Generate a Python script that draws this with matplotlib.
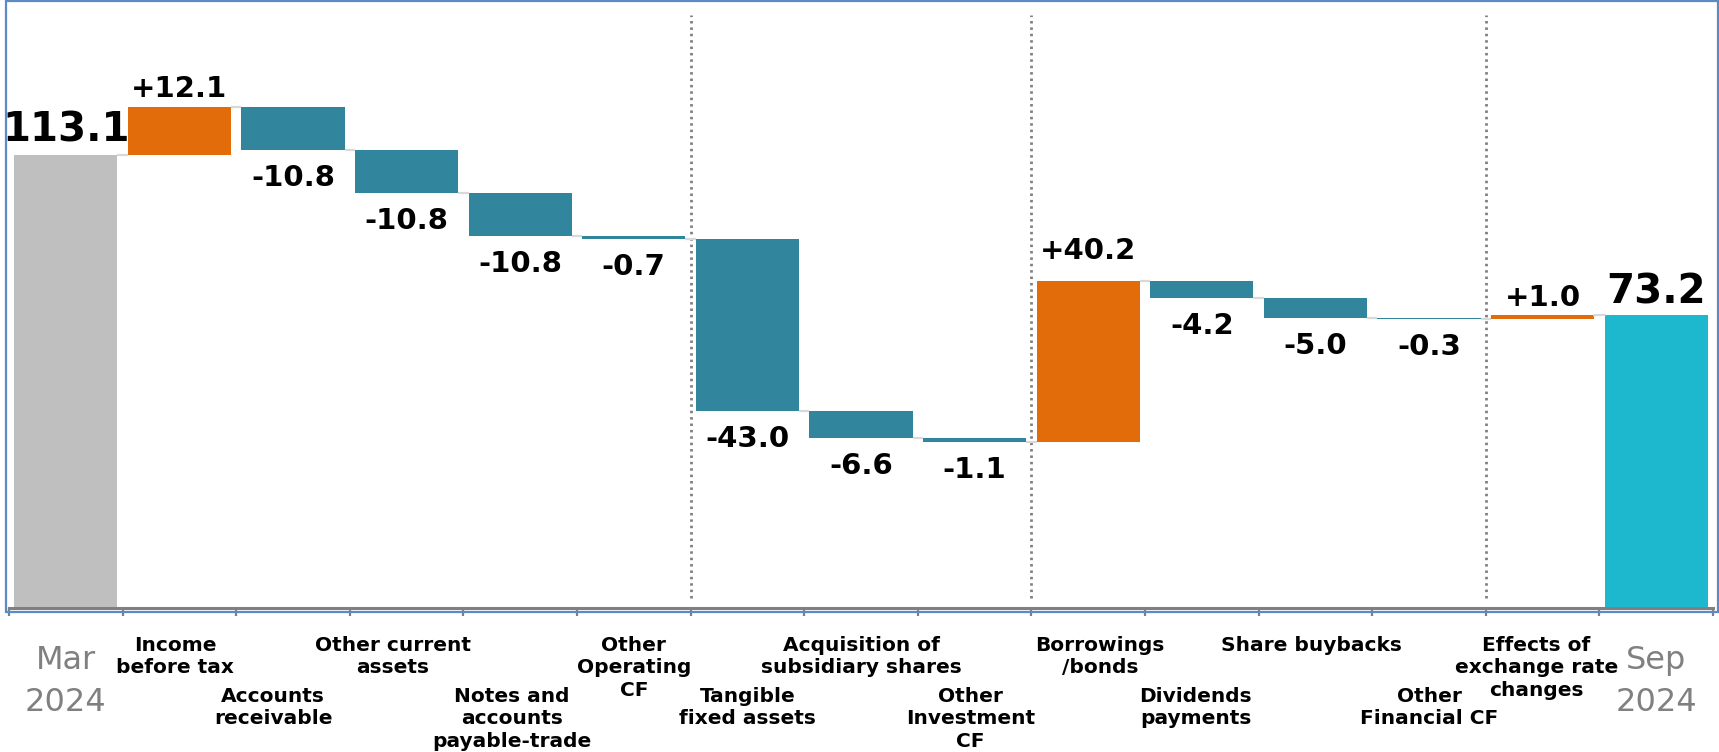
import numpy as np
import matplotlib
matplotlib.use("Agg")
import matplotlib.pyplot as plt
from matplotlib.patches import Rectangle
from matplotlib.transforms import blended_transform_factory

# ---- data (billion yen) ----
categories = ["Mar\n2024", "Income\nbefore tax", "Accounts\nreceivable",
              "Other current\nassets", "Notes and\naccounts\npayable-trade",
              "Other\nOperating\nCF", "Tangible\nfixed assets",
              "Acquisition of\nsubsidiary shares", "Other\nInvestment\nCF",
              "Borrowings\n/bonds", "Dividends\npayments", "Share buybacks",
              "Other\nFinancial CF", "Effects of\nexchange rate\nchanges",
              "Sep\n2024"]
start_value = 113.1
deltas = [12.1, -10.8, -10.8, -10.8, -0.7, -43.0, -6.6, -1.1,
          40.2, -4.2, -5.0, -0.3, 1.0]
end_value = 73.2
dividers = [5.5, 8.5, 12.5]   # section breaks: operating / investing / financing / fx

# small horizontal nudges of the category labels (pixels), as in the original
label_dx = [0, -4, -20, -14, -8, 0, 0, 0, -4, 12, -6, -4, 0, -6, 0]

GRAY = "#BFBFBF"
ORANGE = "#E36C0A"
TEAL = "#31859C"
END = "#1EB8CE"
CONN = "#D9D9D9"

W, H = 1719, 752
fig = plt.figure(figsize=(W / 100, H / 100), dpi=100)
ax = fig.add_axes([9 / W, (H - 608) / H, (1713 - 9) / W, (608 - 3) / H])
ax.set_xlim(-0.5, len(categories) - 0.5)
ax.set_ylim(0, 605 / 4.005)

bw = 0.91
# start bar
ax.bar(0, start_value, width=bw, color=GRAY)
ax.annotate(f"{start_value:.1f}", xy=(0, start_value), xytext=(0, 9.4),
            textcoords="offset points", ha="center", va="baseline",
            fontsize=29, fontweight="bold")

level = start_value
for i, d in enumerate(deltas, start=1):
    bottom = min(level, level + d)
    ax.bar(i, abs(d), bottom=bottom, width=bw,
           color=ORANGE if d > 0 else TEAL)
    # connector from previous bar
    ax.plot([i - 1 + bw / 2, i - bw / 2], [level, level], color=CONN, lw=1.6,
            solid_capstyle="butt", zorder=1)
    new = level + d
    if d > 0:
        gap = 16 if i == 9 else 7
        ax.annotate(f"{d:+.1f}", xy=(i, new), xytext=(0, gap),
                    textcoords="offset points", ha="center", va="baseline",
                    fontsize=21, fontweight="bold")
    else:
        ax.annotate(f"{d:+.1f}", xy=(i, new), xytext=(0, -10),
                    textcoords="offset points", ha="center", va="top",
                    fontsize=21, fontweight="bold")
    level = new

n = len(categories) - 1
ax.bar(n, end_value, width=bw, color=END)
ax.plot([n - 1 + bw / 2, n - bw / 2], [level, end_value], color=CONN, lw=1.6,
        zorder=1)
ax.annotate(f"{end_value:.1f}", xy=(n, end_value), xytext=(0, 8),
            textcoords="offset points", ha="center", va="baseline",
            fontsize=29, fontweight="bold")

# dotted section dividers
for x in dividers:
    ax.plot([x, x], [2.5, 148], color="#808080", lw=2.0,
            linestyle=(0, (0.9, 1.4)), zorder=0)

# axes styling
for s in ["top", "left", "right"]:
    ax.spines[s].set_visible(False)
ax.spines["bottom"].set_color("#808080")
ax.spines["bottom"].set_linewidth(2.2)
ax.set_yticks([])
ax.set_xticks(np.arange(-0.5, len(categories), 1))
ax.set_xticklabels([])
ax.tick_params(axis="x", direction="out", length=6, width=1.6, color="#808080")

# category labels, alternating rows
tr = blended_transform_factory(ax.transData, fig.transFigure)
for i, lab in enumerate(categories):
    x = i + label_dx[i] / 113.6
    if i == 0 or i == n:
        ax.text(x, (H - 645) / H, lab, transform=tr, ha="center", va="top",
                fontsize=23, color="#808080", linespacing=1.45)
    else:
        top_px = 636 if i % 2 == 1 else 687
        ax.text(x, (H - top_px) / H, lab, transform=tr, ha="center", va="top",
                fontsize=14.5, fontweight="bold", linespacing=1.22)

# light blue chart frame
fig.patches.append(Rectangle((6 / W, (H - 612) / H), (1718 - 6) / W, (612 - 1) / H,
                             transform=fig.transFigure, fill=False,
                             edgecolor="#5B8BC6", lw=1.6, zorder=10))

fig.savefig("out.png", dpi=100)
